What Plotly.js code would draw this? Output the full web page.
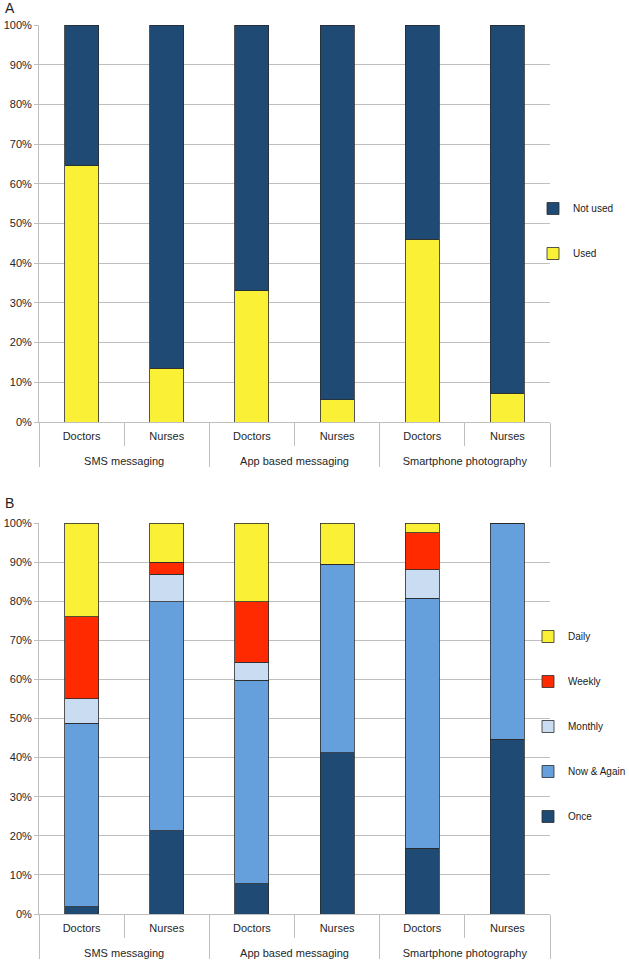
<!DOCTYPE html>
<html>
<head>
<meta charset="utf-8">
<script src="https://cdn.plot.ly/plotly-3.0.1.min.js"></script>
<style>html,body{margin:0;padding:0;background:#fff;}#chart{width:629px;height:960px;}</style>
</head>
<body>
<div id="chart"></div>
<script>
// ---- data ----
var groups = ["SMS messaging","SMS messaging","App based messaging","App based messaging","Smartphone photography","Smartphone photography"];
var roles = ["Doctors","Nurses","Doctors","Nurses","Doctors","Nurses"];
// Panel A (%)
var usedA = [64.6, 13.6, 33.0, 5.6, 46.0, 7.3];
var notUsedA = [35.4, 86.4, 67.0, 94.4, 54.0, 92.7];
// Panel B (%)
var once = [1.8, 21.3, 7.8, 41.3, 16.8, 44.7];
var nowAgain = [47.0, 58.5, 52.0, 48.1, 63.9, 55.3];
var monthly = [6.2, 7.1, 4.6, 0, 7.3, 0];
var weekly = [21.0, 3.0, 15.4, 0, 9.5, 0];
var daily = [24.0, 10.1, 20.2, 10.6, 2.5, 0];

var C = {navy:"#1f4a74", yellow:"#faf035", blue:"#659fdc", pale:"#c9dcf1", red:"#ff2a00"};
var FONT = "Liberation Sans, Arial, sans-serif";
var outline = {color:"#2b2b2b", width:0.8};
// outer level gets a leading line break to open up the gap between the two label rows
var groupLabels = groups.map(function(g){ return "<br>" + g; });
var xcat = [groupLabels, roles];

function bar(name, vals, color, xa, ya, leg, grp, rank){
  return {type:"bar", name:name, x:xcat, y:vals, xaxis:xa, yaxis:ya,
    marker:{color:color, line:outline}, legend:leg, legendgroup:grp, legendrank:rank, hoverinfo:"skip"};
}

var data = [
  bar("Used", usedA, C.yellow, "x", "y", "legend", "a1", 2),
  bar("Not used", notUsedA, C.navy, "x", "y", "legend", "a2", 1),
  bar("Once", once, C.navy, "x2", "y2", "legend2", "b1", 5),
  bar("Now & Again", nowAgain, C.blue, "x2", "y2", "legend2", "b2", 4),
  bar("Monthly", monthly, C.pale, "x2", "y2", "legend2", "b3", 3),
  bar("Weekly", weekly, C.red, "x2", "y2", "legend2", "b4", 2),
  bar("Daily", daily, C.yellow, "x2", "y2", "legend2", "b5", 1)
];

function xax(anchor){
  return {type:"multicategory", anchor:anchor, showline:true, linecolor:"#bfbfbf", linewidth:1,
    showgrid:false, ticks:"outside", tickson:"boundaries", ticklen:23, tickcolor:"#bfbfbf",
    showdividers:true, dividercolor:"#bfbfbf", dividerwidth:1, ticklabelstandoff:4,
    tickfont:{family:FONT, size:11, color:"#262626"}, automargin:false, fixedrange:true};
}
function yax(domain, anchor){
  return {domain:domain, anchor:anchor, range:[0,100], dtick:10, ticksuffix:"%",
    showline:true, linecolor:"#bfbfbf", linewidth:1, gridcolor:"#bfbfbf", gridwidth:1,
    ticks:"outside", ticklen:4, tickcolor:"#bfbfbf", zeroline:false,
    tickfont:{family:FONT, size:11, color:"#262626"}, automargin:false, fixedrange:true};
}

var H = 960, W = 629, PW = 511;
var legFont = {family:FONT, size:10, color:"#1a1a1a"};
var layout = {
  width:W, height:H,
  margin:{l:39, r:79, t:0, b:0, autoexpand:false},
  paper_bgcolor:"#fff", plot_bgcolor:"#fff",
  barmode:"stack", bargap:0.6,
  font:{family:FONT, size:11, color:"#262626"},
  xaxis:xax("y"),
  yaxis:yax([1-422/H, 1-25/H], "x"),
  xaxis2:xax("y2"),
  yaxis2:yax([1-914/H, 1-523/H], "x2"),
  legend:{x:(533-39)/PW, xanchor:"left", y:1-194/H, yanchor:"top",
    traceorder:"grouped", tracegroupgap:26, bgcolor:"rgba(0,0,0,0)", font:legFont},
  legend2:{x:(528-39)/PW, xanchor:"left", y:1-622/H, yanchor:"top",
    traceorder:"grouped", tracegroupgap:26, bgcolor:"rgba(0,0,0,0)", font:legFont},
  annotations:[
    {text:"A", xref:"paper", yref:"paper", x:-36/PW, y:1-8/H, xanchor:"left", yanchor:"middle", showarrow:false,
      font:{family:FONT, size:14, color:"#222"}},
    {text:"B", xref:"paper", yref:"paper", x:-36/PW, y:1-503/H, xanchor:"left", yanchor:"middle", showarrow:false,
      font:{family:FONT, size:14, color:"#222"}}
  ]
};

Plotly.newPlot("chart", data, layout, {staticPlot:true, displayModeBar:false});
</script>
</body>
</html>
